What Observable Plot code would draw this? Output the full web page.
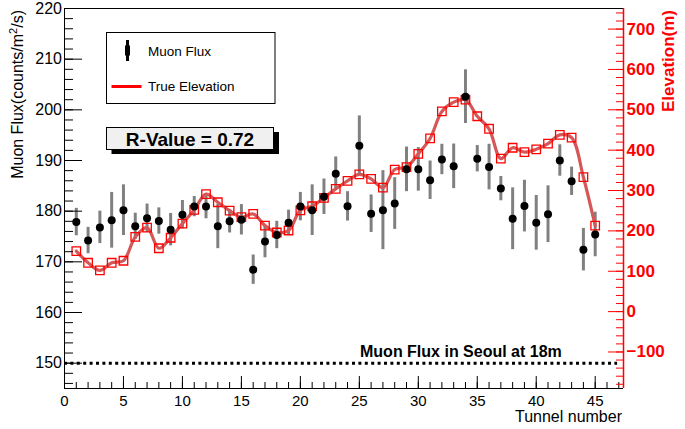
<!DOCTYPE html>
<html>
<head>
<meta charset="utf-8">
<script src="https://cdn.jsdelivr.net/npm/d3@7"></script>
<script src="https://cdn.jsdelivr.net/npm/@observablehq/plot@0.6"></script>
<style>
  body { margin: 0; background: #fff; }
  #chart svg { display: block; }
</style>
</head>
<body>
<div id="chart"></div>
<script>
// ---- data ----
const tunnel = [1,2,3,4,5,6,7,8,9,10,11,12,13,14,15,16,17,18,19,20,21,22,23,24,25,26,27,28,29,30,31,32,33,34,35,36,37,38,39,40,41,42,43,44,45];
const flux = [177.85,174.2,176.8,178.2,180.2,177.0,178.6,178.05,176.35,179.3,180.9,180.9,177.0,178.0,178.3,168.45,174.0,175.3,177.7,180.9,180.2,182.85,187.4,180.95,192.9,179.5,180.2,181.5,188.25,188.25,186.1,190.2,188.85,202.6,190.35,188.7,184.45,178.5,181.0,177.7,179.4,190.0,185.9,172.4,175.4];
const fluxErr = [2.7,2.6,3.2,5.5,5.0,2.6,2.8,2.6,3.2,2.8,2.0,2.4,4.4,2.3,3.0,2.9,3.2,2.7,2.5,2.8,5.0,3.5,3.3,2.9,5.9,3.7,7.8,5.1,4.4,4.3,3.8,3.0,4.4,5.3,2.6,4.5,2.4,6.1,5.1,5.4,5.6,3.1,2.8,4.2,4.4];
const elevation = [150,121,102,121,126,185,208,157,183,218,252,291,271,250,234,242,213,196,201,251,261,282,304,324,340,329,307,352,358,391,429,496,519,525,484,453,379,406,395,402,416,438,431,333,213];
const fluxTicks = [150,160,170,180,190,200,210,220];
const elevTicks = [-100,0,100,200,300,400,500,600,700];
const tunnelTicks = [0,5,10,15,20,25,30,35,40,45];
const seoulFlux = 150;
const seoulLabel = "Muon Flux in Seoul at 18m";
const rValueLabel = "R-Value = 0.72";
const legendLabels = ["Muon Flux", "True Elevation"];

// ---- scales (left flux axis, right elevation axis mapped onto it) ----
const YMIN = 145, YMAX = 220, XMIN = 0, XMAX = 47.4;
const EMIN = -190.5, EMAX = 751;
const e2f = e => YMIN + (e - EMIN) / (EMAX - EMIN) * (YMAX - YMIN);
const f2e = f => EMIN + (f - YMIN) / (YMAX - YMIN) * (EMAX - EMIN);

const rows = tunnel.map((t, i) => ({t, flux: flux[i], err: fluxErr[i], elevY: e2f(elevation[i])}));

const fluxMinor = d3.range(146, 221, 2);
const tunnelMinor = d3.range(0, 48, 1);
const elevMinor = d3.range(-180, 751, 20).map(e2f);

const font = "'Liberation Sans', Arial, Helvetica, sans-serif";
const blank = () => "";

const plot = Plot.plot({
  width: 685, height: 429,
  marginLeft: 64, marginRight: 62, marginTop: 8, marginBottom: 41,
  style: {fontFamily: font, fontSize: "16px", background: "#fff", overflow: "visible"},
  x: {domain: [XMIN, XMAX], label: null},
  y: {domain: [YMIN, YMAX], label: null},
  marks: [
    Plot.ruleY([seoulFlux], {x1: 0, x2: 46.9, stroke: "black", strokeWidth: 3, strokeDasharray: "3,3.4"}),
    Plot.ruleX(rows, {x: "t", y1: d => d.flux - d.err, y2: d => d.flux + d.err, stroke: "#808080", strokeWidth: 3}),
    Plot.line(rows, {x: "t", y: "elevY", stroke: "#d55858", strokeWidth: 3.2, curve: "catmull-rom"}),
    Plot.dot(rows, {x: "t", y: "elevY", symbol: "square", r: 4.8, stroke: "red", strokeWidth: 1.3, fill: "none"}),
    Plot.dot(rows, {x: "t", y: "flux", r: 4, fill: "black", stroke: "none"}),
    // frame lines
    Plot.ruleY([YMAX], {stroke: "black"}),
    Plot.ruleY([YMIN], {stroke: "black"}),
    Plot.ruleX([XMIN], {stroke: "black"}),
    Plot.ruleX([XMAX], {stroke: "red", strokeWidth: 1.5}),
    // left axis
    Plot.axisY({ticks: fluxMinor, tickSize: -9, tickFormat: blank, label: null}),
    Plot.axisY({ticks: fluxTicks, tickSize: -18, tickFormat: blank, label: null}),
    Plot.axisY({ticks: fluxTicks, tickSize: 0, tickPadding: 2.5, fontSize: 16, label: null}),
    // bottom axis
    Plot.axisX({ticks: tunnelMinor, tickSize: -6, tickFormat: blank, label: null}),
    Plot.axisX({ticks: tunnelTicks, tickSize: -12, tickFormat: blank, label: null}),
    Plot.axisX({ticks: tunnelTicks, tickSize: 0, tickPadding: 7, fontSize: 15, label: null}),
    // right axis (elevation)
    Plot.axisY({anchor: "right", ticks: elevMinor, tickSize: -8, tickFormat: blank, color: "red", label: null}),
    Plot.axisY({anchor: "right", ticks: elevTicks.map(e2f), tickSize: -16, tickFormat: blank, color: "red", label: null}),
    Plot.axisY({anchor: "right", ticks: elevTicks.map(e2f), tickSize: 0, tickPadding: 3,
      tickFormat: v => d3.format("d")(Math.round(f2e(v) / 10) * 10).replace("-", "\u2212"),
      color: "red", fontSize: 17, fontWeight: "bold", label: null})
  ]
});

document.getElementById("chart").appendChild(plot);

// ---- annotations ----
const svg = d3.select(plot);
const g = svg.append("g").attr("font-family", font).attr("text-anchor", "start");

// axis titles
const lt = g.append("text")
  .attr("transform", "translate(23,10) rotate(-90)")
  .attr("text-anchor", "end").attr("font-size", 16).attr("fill", "black");
lt.append("tspan").text("Muon Flux(counts/m");
lt.append("tspan").attr("font-size", 11).attr("dy", -6).text("2");
lt.append("tspan").attr("dy", 6).text("/s)");

g.append("text")
  .attr("transform", "translate(674,10) rotate(-90)")
  .attr("text-anchor", "end").attr("font-size", 17).attr("font-weight", "bold")
  .attr("fill", "red").text("Elevation(m)");

g.append("text").attr("x", 622).attr("y", 422).attr("text-anchor", "end")
  .attr("font-size", 16).attr("fill", "black").text("Tunnel number");

// Seoul reference label
g.append("text").attr("x", 360).attr("y", 357).attr("font-size", 16).attr("text-anchor", "start")
  .attr("font-weight", "bold").attr("fill", "black").text(seoulLabel);

// legend
g.append("rect").attr("x", 106.5).attr("y", 32.5).attr("width", 168.5).attr("height", 71)
  .attr("fill", "white").attr("stroke", "black").attr("stroke-width", 1);
g.append("line").attr("x1", 127.5).attr("x2", 127.5).attr("y1", 40).attr("y2", 61)
  .attr("stroke", "black").attr("stroke-width", 3);
g.append("rect").attr("x", 125).attr("y", 45.5).attr("width", 5).attr("height", 10).attr("fill", "black");
g.append("text").attr("x", 148).attr("y", 56).attr("font-size", 13.5).attr("text-anchor", "start")
  .attr("fill", "black").text(legendLabels[0]);
g.append("line").attr("x1", 111.5).attr("x2", 141.5).attr("y1", 86.5).attr("y2", 86.5)
  .attr("stroke", "red").attr("stroke-width", 3);
g.append("text").attr("x", 148).attr("y", 91).attr("font-size", 13.5).attr("text-anchor", "start")
  .attr("fill", "black").text(legendLabels[1]);

// R-value box
g.append("rect").attr("x", 111.5).attr("y", 132).attr("width", 167.5).attr("height", 22).attr("fill", "black");
g.append("rect").attr("x", 106.5).attr("y", 127.5).attr("width", 167).attr("height", 22)
  .attr("fill", "#f0f0f0").attr("stroke", "black").attr("stroke-width", 1);
g.append("text").attr("x", 190).attr("y", 145.5).attr("text-anchor", "middle")
  .attr("font-size", 19).attr("font-weight", "bold").attr("fill", "black").text(rValueLabel);
</script>
</body>
</html>
